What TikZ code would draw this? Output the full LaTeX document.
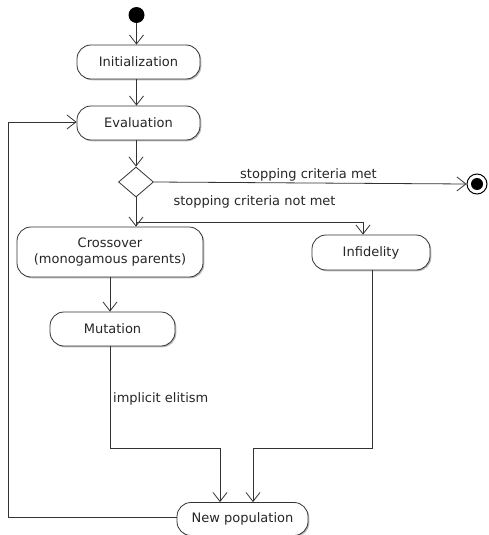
\documentclass[tikz,border=0pt]{standalone}
\usepackage{fontspec}
\setmainfont{DejaVu Sans}
\usetikzlibrary{arrows.meta,shapes.geometric,shadows}
\begin{document}
\begin{tikzpicture}[x=1pt,y=-1pt,
 act/.style={draw=black!80, fill=white, rounded corners=14pt, line width=0.8pt,
   font=\fontsize{13}{15.5}\selectfont, text=black!85, align=center, inner sep=0pt,
   drop shadow={shadow xshift=1.3pt, shadow yshift=-1.3pt, fill=black!45, opacity=0.6}},
 flow/.style={draw=black!80, line width=0.8pt, -{Straight Barb[length=9pt,width=14pt]}},
 lbl/.style={font=\fontsize{13}{15.5}\selectfont, text=black!85, inner sep=1pt}]
\useasboundingbox (0,0) rectangle (488,535);
\node[circle, fill=black, minimum size=16pt, inner sep=0pt] (start) at (136.5,15) {};
\node[act, minimum width=123pt, minimum height=34pt] (init) at (138.5,62) {Initialization};
\node[act, minimum width=123pt, minimum height=34pt] (eval) at (138.5,123) {Evaluation};
\node[diamond, draw=black!80, line width=0.8pt, fill=white, minimum width=35pt, minimum height=30pt, inner sep=0pt] (dec) at (136,182) {};
\node[circle, draw=black, line width=1pt, fill=white, minimum size=20pt, inner sep=0pt] (end) at (477,184) {};
\node[circle, fill=black, minimum size=12pt, inner sep=0pt] (endin) at (end) {};
\node[act, minimum width=186pt, minimum height=50pt] (cross) at (110,252) {Crossover\\(monogamous parents)};
\node[act, minimum width=118pt, minimum height=35pt] (inf) at (371,252.5) {Infidelity};
\node[act, minimum width=125pt, minimum height=34pt] (mut) at (112.5,329) {Mutation};
\node[act, minimum width=131pt, minimum height=33pt] (np) at (242.5,519) {New population};

\coordinate (ax) at (136.5,0);
\coordinate (br) at (136,222);
\coordinate (ib) at (363,222);
\coordinate (cx) at (110,0);
\coordinate (m1) at (110,448);
\coordinate (m2) at (220,448);
\coordinate (ix) at (372,0);
\coordinate (i1) at (372,448);
\coordinate (i2) at (253,448);
\coordinate (l1) at (8,517);
\coordinate (l2) at (8,122);

\draw[flow] (start) -- (start |- init.north);
\draw[flow] (init.south -| ax) -- (eval.north -| ax);
\draw[flow] (eval.south -| dec) -- (dec.north);
\draw[flow] (dec.east) -- (end.west);
\draw[flow] (dec.south) -- (dec.south |- cross.north);
\draw[flow] (br) -- (ib) -- (ib |- inf.north);
\draw[flow] (cross.south -| cx) -- (mut.north -| cx);
\draw[flow] (mut.south -| cx) -- (m1) -- (m2) -- (m2 |- np.north);
\draw[flow] (inf.south -| ix) -- (i1) -- (i2) -- (i2 |- np.north);
\draw[flow] (np.west |- l1) -- (l1) -- (l2) -- (eval.west |- l2);

\node[lbl] (lmet) at (308.5,175) {stopping criteria met};
\node[lbl] (lnot) at (254.5,202) {stopping criteria not met};
\node[lbl, anchor=west] (lel) at (112,399) {implicit elitism};
\end{tikzpicture}
\end{document}
